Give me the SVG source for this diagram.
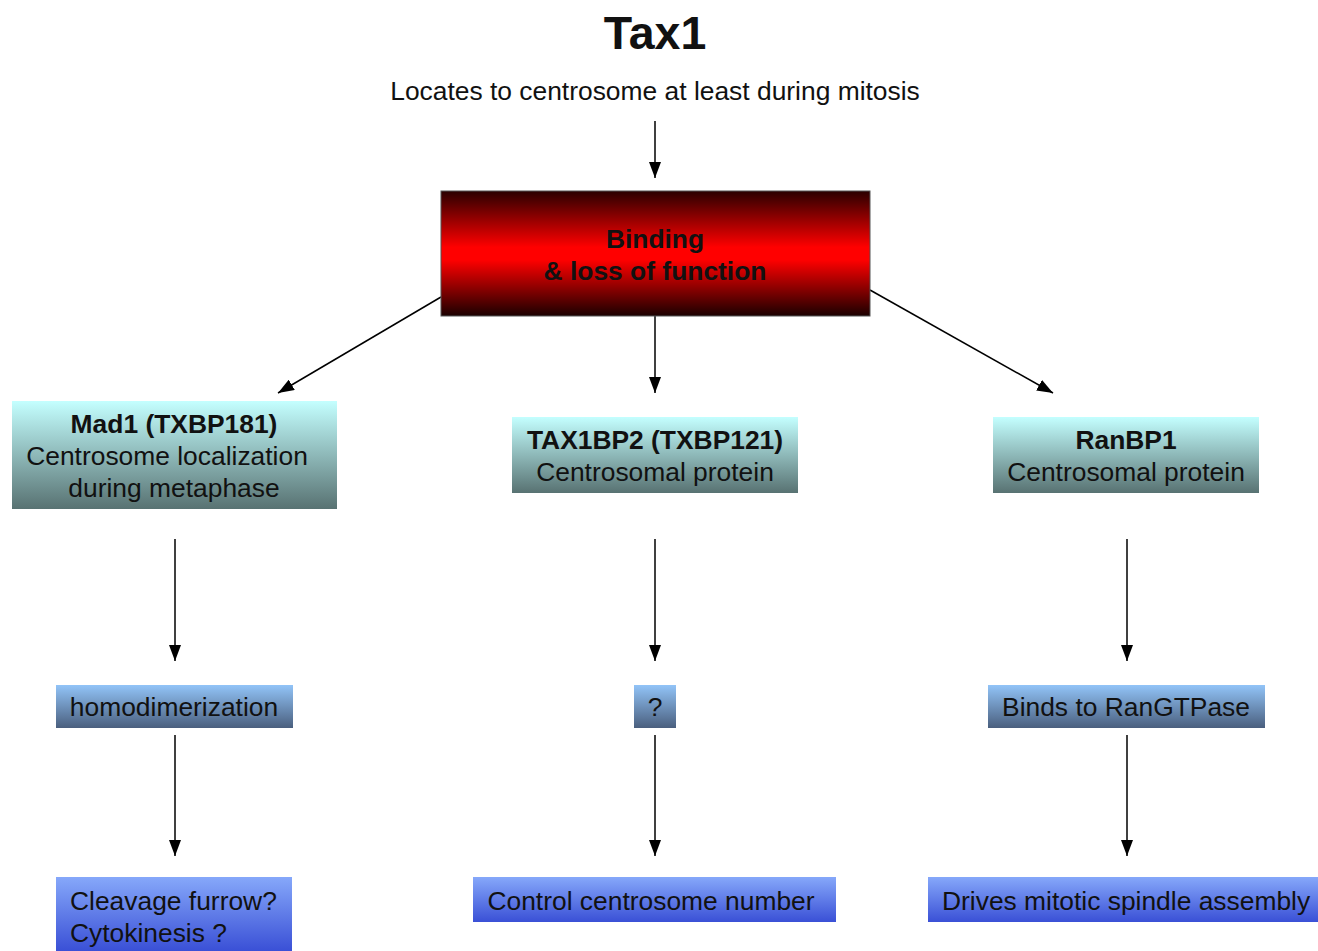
<svg xmlns="http://www.w3.org/2000/svg" width="1318" height="951" viewBox="0 0 1318 951">
<defs>
<linearGradient id="gRed" x1="0" y1="0" x2="0" y2="1">
<stop offset="0" stop-color="#2a0000"/>
<stop offset="0.45" stop-color="#ff0000"/>
<stop offset="0.55" stop-color="#ff0000"/>
<stop offset="1" stop-color="#1a0000"/>
</linearGradient>
<linearGradient id="gCyan" x1="0" y1="0" x2="0" y2="1">
<stop offset="0" stop-color="#c4ffff"/>
<stop offset="1" stop-color="#587272"/>
</linearGradient>
<linearGradient id="gMid" x1="0" y1="0" x2="0" y2="1">
<stop offset="0" stop-color="#92c4f8"/>
<stop offset="1" stop-color="#4a5f7e"/>
</linearGradient>
<linearGradient id="gBlue" x1="0" y1="0" x2="0" y2="1">
<stop offset="0" stop-color="#86a8fa"/>
<stop offset="1" stop-color="#3a50d6"/>
</linearGradient>
<marker id="ah" viewBox="0 0 16 12" refX="16" refY="6" markerWidth="16" markerHeight="12" markerUnits="userSpaceOnUse" orient="auto">
<path d="M0,0 L16,6 L0,12 Z" fill="#000"/>
</marker>
</defs>
<style>
.t{font-family:"Liberation Sans",Arial,sans-serif;fill:#111;text-anchor:middle}
.n{font-size:26.4px}
.b{font-weight:bold}
.l{text-anchor:start}
.c line{stroke:#000;stroke-width:1.5;marker-end:url(#ah)}
</style>
<rect width="1318" height="951" fill="#fff"/>
<g id="title">
<text class="t b" x="655" y="49" font-size="46.5">Tax1</text>
<text class="t" x="655" y="100" font-size="26.4">Locates to centrosome at least during mitosis</text>
</g>
<g class="c" id="connectors">
<line x1="655" y1="121" x2="655" y2="178"/>
<line x1="441" y1="297" x2="278" y2="393"/>
<line x1="655" y1="316" x2="655" y2="393"/>
<line x1="870" y1="290" x2="1053" y2="393"/>
<line x1="175" y1="539" x2="175" y2="661"/>
<line x1="655" y1="539" x2="655" y2="661"/>
<line x1="1127" y1="539" x2="1127" y2="661"/>
<line x1="175" y1="735" x2="175" y2="856"/>
<line x1="655" y1="735" x2="655" y2="856"/>
<line x1="1127" y1="735" x2="1127" y2="856"/>
</g>
<g id="binding">
<rect x="441" y="191" width="429" height="125" fill="url(#gRed)" stroke="#555" stroke-width="1"/>
<text class="t n b" x="655" y="248" fill="#1a0000">Binding</text>
<text class="t n b" x="655" y="280">&amp; loss of function</text>
</g>
<g id="mad1">
<rect x="12" y="401" width="325" height="108" fill="url(#gCyan)"/>
<text class="t n b" x="174" y="433">Mad1 (TXBP181)</text>
<text class="t n" x="167" y="465">Centrosome localization</text>
<text class="t n" x="174" y="497">during metaphase</text>
</g>
<g id="tax1bp2">
<rect x="512" y="417" width="286" height="76" fill="url(#gCyan)"/>
<text class="t n b" x="655" y="449">TAX1BP2 (TXBP121)</text>
<text class="t n" x="655" y="481">Centrosomal protein</text>
</g>
<g id="ranbp1">
<rect x="993" y="417" width="266" height="76" fill="url(#gCyan)"/>
<text class="t n b" x="1126" y="449">RanBP1</text>
<text class="t n" x="1126" y="481">Centrosomal protein</text>
</g>
<g id="homodimerization">
<rect x="56" y="685" width="237" height="43" fill="url(#gMid)"/>
<text class="t n" x="174" y="716">homodimerization</text>
</g>
<g id="question">
<rect x="634" y="685" width="42" height="43" fill="url(#gMid)"/>
<text class="t n" x="655" y="716">?</text>
</g>
<g id="rangtpase">
<rect x="988" y="685" width="277" height="43" fill="url(#gMid)"/>
<text class="t n" x="1126" y="716">Binds to RanGTPase</text>
</g>
<g id="cleavage">
<rect x="56" y="877" width="236" height="74" fill="url(#gBlue)"/>
<text class="t n l" x="70" y="910">Cleavage furrow?</text>
<text class="t n l" x="70" y="942">Cytokinesis ?</text>
</g>
<g id="centrosome-number">
<rect x="473" y="877" width="363" height="45" fill="url(#gBlue)"/>
<text class="t n" x="651" y="910">Control centrosome number</text>
</g>
<g id="spindle">
<rect x="928" y="877" width="390" height="45" fill="url(#gBlue)"/>
<text class="t n l" x="942" y="910">Drives mitotic spindle assembly</text>
</g>
</svg>
